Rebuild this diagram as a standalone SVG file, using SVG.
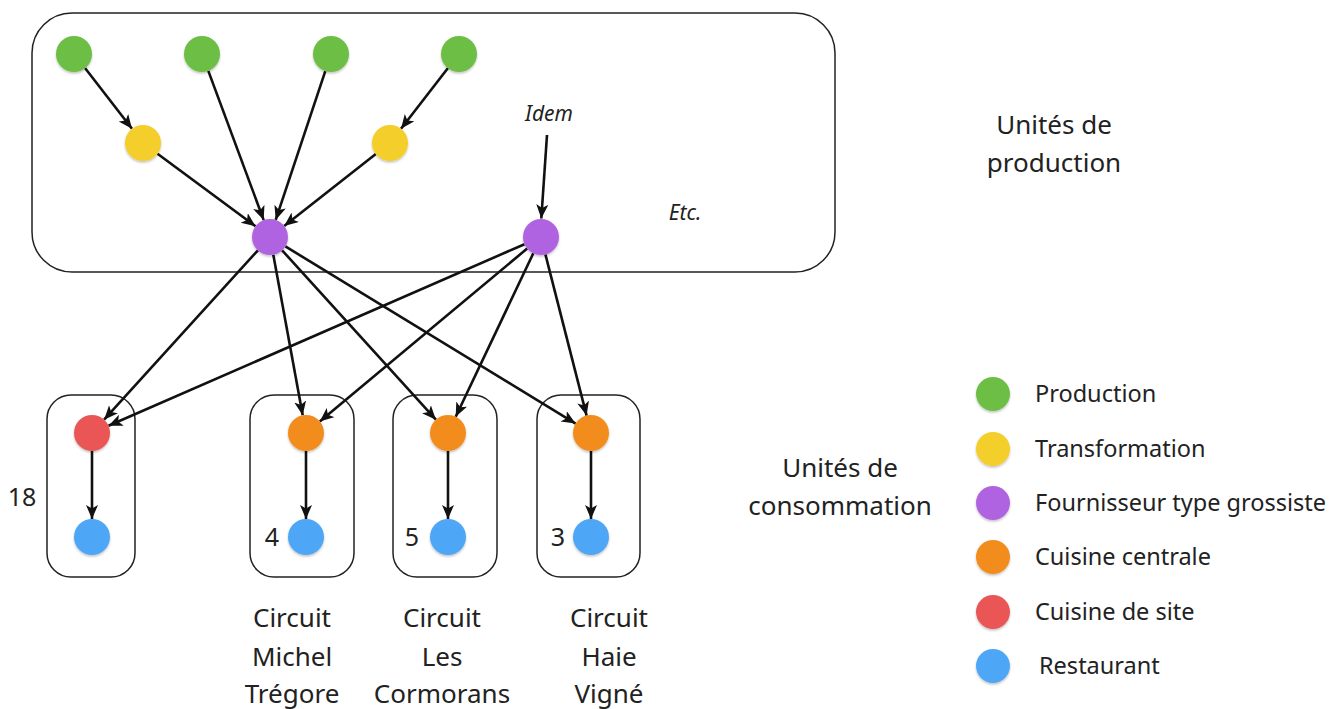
<svg xmlns="http://www.w3.org/2000/svg" width="1344" height="709" viewBox="0 0 1344 709">
<style>
.box{fill:none;stroke:#222;stroke-width:1.5}
.e{stroke:#111;stroke-width:2.6;fill:none;marker-end:url(#ah)}
.t{font-family:"Noto Sans","Open Sans",sans-serif;fill:#222}
.n{filter:url(#sh)}
.g{fill:#6CBE45}.y{fill:#F4CE2A}.p{fill:#AF64E0}.o{fill:#F28C1C}.r{fill:#EA5755}.b{fill:#4EA6F6}
</style>
<defs>
<marker id="ah" markerUnits="userSpaceOnUse" markerWidth="15" markerHeight="13" refX="14" refY="6" orient="auto">
<path d="M0,0 L14,6 L0,12 L3.5,6 z" fill="#111"/>
</marker>
<filter id="sh" x="-30%" y="-30%" width="160%" height="160%">
<feDropShadow dx="0" dy="1.5" stdDeviation="1.2" flood-color="#000" flood-opacity="0.25"/>
</filter>
</defs>
<g id="containers">
<rect class="box" x="32" y="13" width="803" height="259" rx="40"/>
<rect class="box" x="47" y="395" width="88" height="182" rx="24"/>
<rect class="box" x="250" y="395" width="104" height="182" rx="24"/>
<rect class="box" x="393" y="395" width="104" height="182" rx="24"/>
<rect class="box" x="537" y="395" width="103" height="182" rx="24"/>
</g>
<g id="connectors">
<line class="e" x1="85" y1="68" x2="132" y2="128.8"/>
<line class="e" x1="208.3" y1="70.9" x2="263.7" y2="220.1"/>
<line class="e" x1="325.3" y1="71.1" x2="275.7" y2="219.9"/>
<line class="e" x1="448" y1="68" x2="401" y2="128.8"/>
<line class="e" x1="157.5" y1="153.7" x2="255.5" y2="226.3"/>
<line class="e" x1="375.8" y1="154.1" x2="284.2" y2="225.9"/>
<line class="e" x1="547" y1="135" x2="541.3" y2="218.5"/>
<line class="e" x1="257.9" y1="250.3" x2="104.1" y2="419.7"/>
<line class="e" x1="273.3" y1="254.7" x2="302.7" y2="415.3"/>
<line class="e" x1="282.1" y1="250.3" x2="435.9" y2="419.7"/>
<line class="e" x1="285.4" y1="246.4" x2="575.6" y2="423.6"/>
<line class="e" x1="524.5" y1="244.2" x2="108.5" y2="425.8"/>
<line class="e" x1="527.2" y1="248.5" x2="319.8" y2="421.5"/>
<line class="e" x1="533.3" y1="253.3" x2="455.7" y2="416.7"/>
<line class="e" x1="545.4" y1="254.4" x2="586.6" y2="415.6"/>
<line class="e" x1="92" y1="451" x2="92" y2="519"/>
<line class="e" x1="306" y1="451" x2="306" y2="519"/>
<line class="e" x1="448" y1="451" x2="448" y2="519"/>
<line class="e" x1="591" y1="451" x2="591" y2="519"/>
</g>
<g id="prod1"><circle class="n g" cx="74" cy="54" r="18"/></g>
<g id="prod2"><circle class="n g" cx="202" cy="54" r="18"/></g>
<g id="prod3"><circle class="n g" cx="331" cy="54" r="18"/></g>
<g id="prod4"><circle class="n g" cx="459" cy="54" r="18"/></g>
<g id="transf1"><circle class="n y" cx="143" cy="143" r="18"/></g>
<g id="transf2"><circle class="n y" cx="390" cy="143" r="18"/></g>
<g id="fourn1"><circle class="n p" cx="270" cy="237" r="18"/></g>
<g id="fourn2"><circle class="n p" cx="541" cy="237" r="18"/></g>
<g id="site1"><circle class="n r" cx="92" cy="433" r="18"/></g>
<g id="centrale1"><circle class="n o" cx="306" cy="433" r="18"/></g>
<g id="centrale2"><circle class="n o" cx="448" cy="433" r="18"/></g>
<g id="centrale3"><circle class="n o" cx="591" cy="433" r="18"/></g>
<g id="resto1"><circle class="n b" cx="92" cy="537" r="18"/></g>
<g id="resto2"><circle class="n b" cx="306" cy="537" r="18"/></g>
<g id="resto3"><circle class="n b" cx="448" cy="537" r="18"/></g>
<g id="resto4"><circle class="n b" cx="591" cy="537" r="18"/></g>
<g id="labels">
<text class="t" x="549" y="121" font-size="21" font-style="italic" text-anchor="middle">Idem</text>
<text class="t" x="685" y="220" font-size="21" font-style="italic" text-anchor="middle">Etc.</text>
<text class="t" x="22" y="506" font-size="25" text-anchor="middle">18</text>
<text class="t" x="272" y="546" font-size="25" text-anchor="middle">4</text>
<text class="t" x="412" y="546" font-size="25" text-anchor="middle">5</text>
<text class="t" x="558" y="546" font-size="25" text-anchor="middle">3</text>
<text class="t" font-size="26" text-anchor="middle"><tspan x="292" y="627">Circuit</tspan><tspan x="292" y="666">Michel</tspan><tspan x="292" y="703">Trégore</tspan></text>
<text class="t" font-size="26" text-anchor="middle"><tspan x="442" y="627">Circuit</tspan><tspan x="442" y="666">Les</tspan><tspan x="442" y="703">Cormorans</tspan></text>
<text class="t" font-size="26" text-anchor="middle"><tspan x="609" y="627">Circuit</tspan><tspan x="609" y="666">Haie</tspan><tspan x="609" y="703">Vigné</tspan></text>
<text class="t" font-size="26" text-anchor="middle"><tspan x="1054" y="134">Unités de</tspan><tspan x="1054" y="172">production</tspan></text>
<text class="t" font-size="26" text-anchor="middle"><tspan x="840" y="477">Unités de</tspan><tspan x="840" y="515">consommation</tspan></text>
</g>
<g id="legend">
<circle class="n g" cx="993" cy="394" r="17"/>
<circle class="n y" cx="993" cy="449" r="17"/>
<circle class="n p" cx="993" cy="503" r="17"/>
<circle class="n o" cx="993" cy="557" r="17"/>
<circle class="n r" cx="993" cy="612" r="17"/>
<circle class="n b" cx="993" cy="666" r="17"/>
<text class="t" x="1035" y="402" font-size="23.5">Production</text>
<text class="t" x="1035" y="457" font-size="23.5">Transformation</text>
<text class="t" x="1035" y="511" font-size="23.5">Fournisseur type grossiste</text>
<text class="t" x="1035" y="565" font-size="23.5">Cuisine centrale</text>
<text class="t" x="1035" y="620" font-size="23.5">Cuisine de site</text>
<text class="t" x="1039" y="674" font-size="23.5">Restaurant</text>
</g>
</svg>
